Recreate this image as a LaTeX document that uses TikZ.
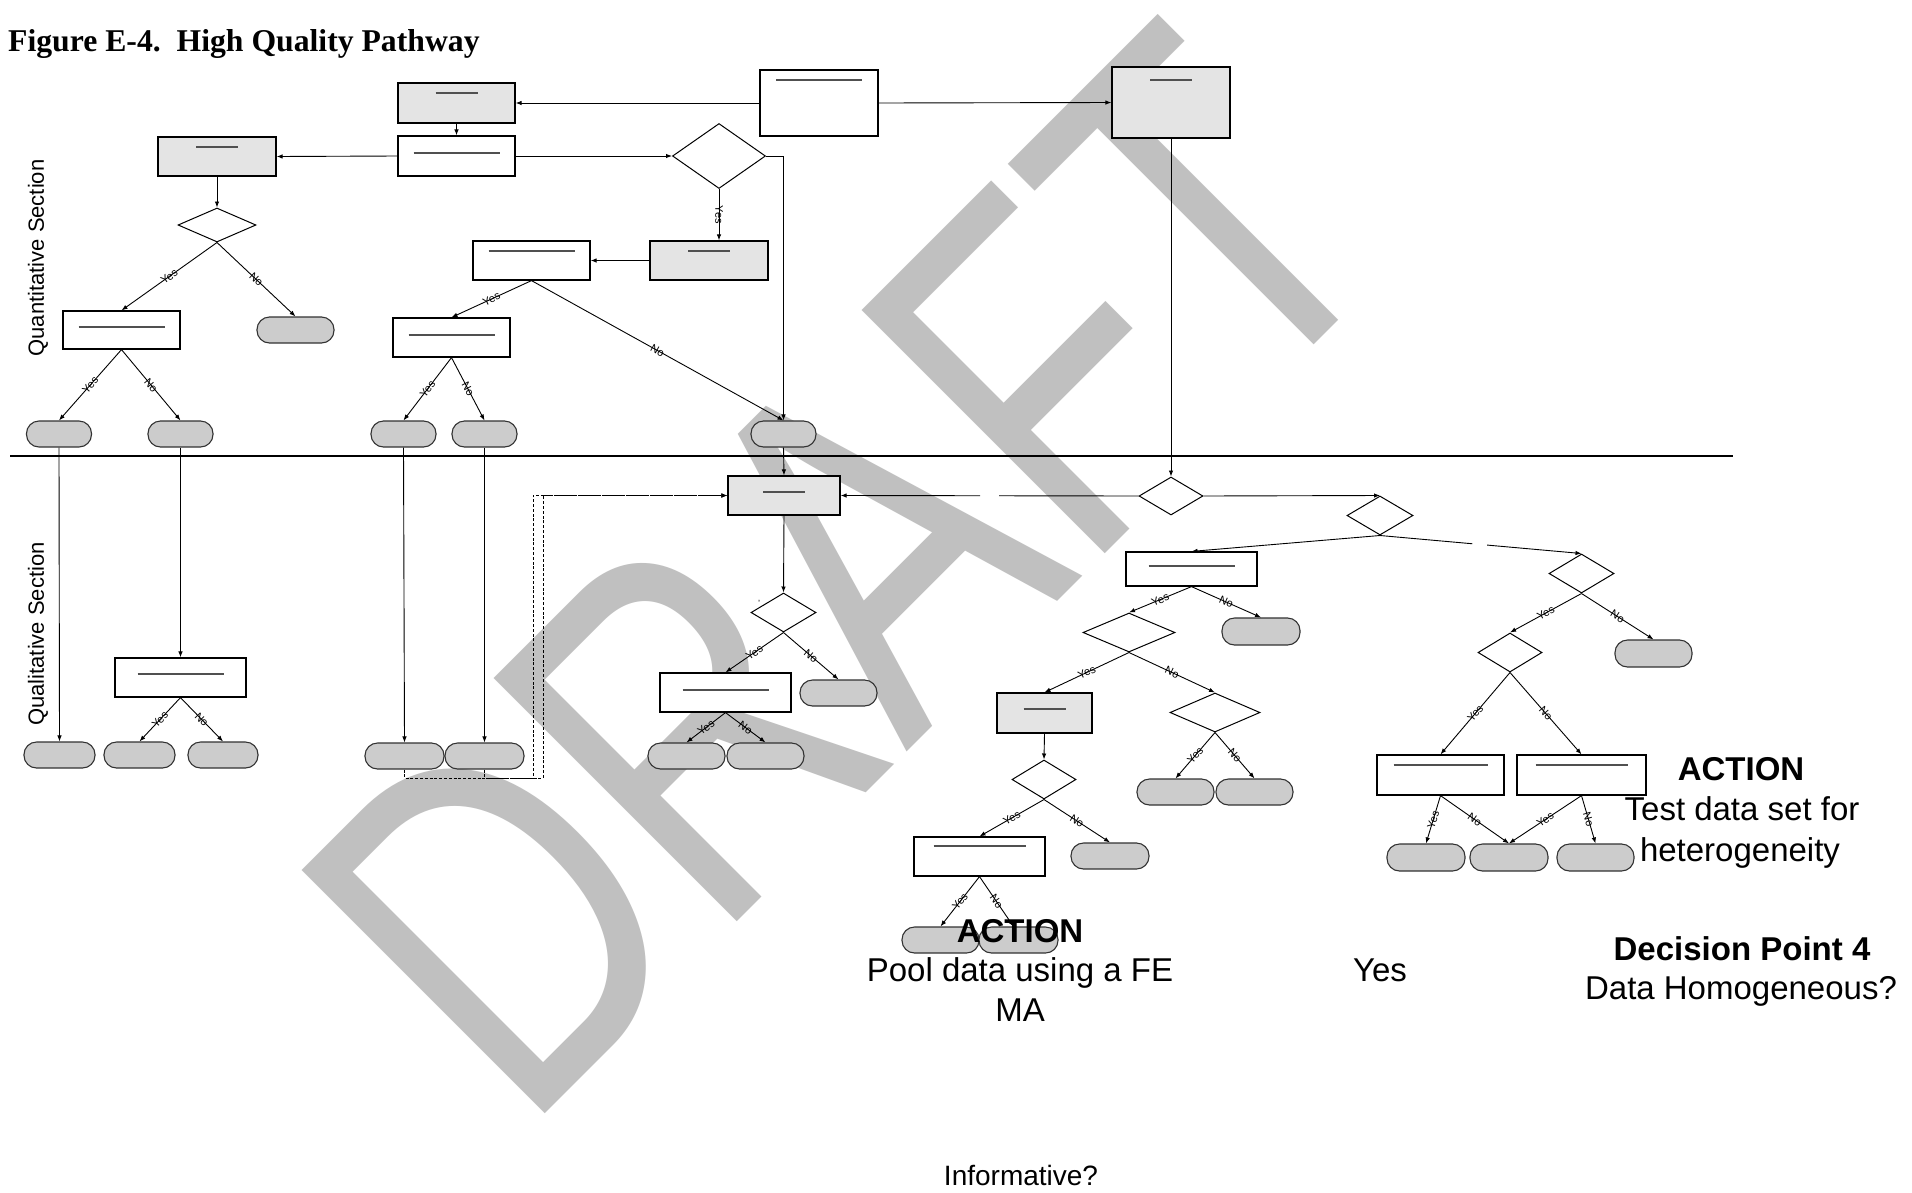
\documentclass[tikz,border=0pt]{standalone}
\usepackage{graphicx}
\usepackage{fontspec}
\setmainfont{Liberation Sans}
\newfontfamily\serifttl{Liberation Serif}
\usetikzlibrary{shapes.geometric,arrows.meta,calc}
\definecolor{wmgray}{RGB}{192,192,192}
\definecolor{boxgray}{RGB}{228,228,228}
\definecolor{termgray}{RGB}{204,204,204}
\definecolor{phgray}{RGB}{80,80,80}
\definecolor{termline}{RGB}{50,50,50}
\newcommand\phl[3]{\draw[phline] ($(#1.north)+(-#2,#3)$) -- ++({2*#2},0);}
\begin{document}
\begin{tikzpicture}[x=1pt,y=-1pt,
 wbox/.style={draw=black, line width=1.2pt, fill=white, inner sep=0pt},
 gbox/.style={wbox, fill=boxgray},
 dec/.style={diamond, draw=black, line width=1pt, fill=white, inner sep=0pt},
 term/.style={draw=termline, line width=1.1pt, fill=termgray, rounded corners=12.5pt, inner sep=0pt, minimum height=26pt},
 phline/.style={draw=phgray, line width=2pt},
 ar/.style={-{Latex[length=6pt,width=4.5pt]}, line width=0.9pt},
 ln/.style={line width=0.9pt},
 yn/.style={font=\fontsize{11}{11}\selectfont, inner sep=0.6pt, sloped, pos=0.5},
 yv/.style={font=\fontsize{11}{11}\selectfont, inner sep=0.6pt, rotate=-90, pos=0.5},
 dsh/.style={ar, dash pattern=on 3pt off 1.8pt},
 big/.style={font=\fontsize{33}{33}\selectfont, inner sep=0pt, anchor=base},
 bigb/.style={font=\fontsize{33}{33}\selectfont\bfseries, inner sep=0pt, anchor=base},
 wm/.style={text=wmgray, font=\fontsize{500}{500}\selectfont, rotate=45, anchor=base west, inner sep=0pt},
]
\useasboundingbox (0,0) rectangle (1912,1192);
\fill[white] (0,0) rectangle (1912,1192);

% watermark
\node[wm] (wmk) at (523.5,1135.5) {\scalebox{0.75}[1]{DRAFT}};

% title and section labels
\node[anchor=base west, inner sep=0pt, font=\serifttl\bfseries\fontsize{31.7}{31.7}\selectfont] (title) at (8,51) {Figure E-4.\ \ High Quality Pathway};
\node[rotate=90, inner sep=0pt, font=\fontsize{22}{22}\selectfont] (quant) at (38,258) {Quantitative Section};
\node[rotate=90, inner sep=0pt, font=\fontsize{22}{22}\selectfont] (qual) at (38,634) {Qualitative Section};

% separator
\coordinate (sepL) at (10,456);
\coordinate (sepR) at (1733,456);
\draw[line width=1.2pt] (sepL) -- (sepR);

% ---------- quantitative section nodes
\node[gbox, minimum width=117pt, minimum height=40pt] (A) at (456.5,103) {};
\node[wbox, minimum width=117pt, minimum height=40pt] (B) at (456.5,156) {};
\node[gbox, minimum width=118pt, minimum height=39pt] (C) at (217,156.5) {};
\node[dec, minimum width=93pt, minimum height=65pt] (D1) at (719,156) {};
\node[gbox, minimum width=118pt, minimum height=39pt] (E) at (709,260.5) {};
\node[wbox, minimum width=117pt, minimum height=39pt] (F) at (531.5,260.5) {};
\node[wbox, minimum width=118pt, minimum height=66pt] (G) at (819,103) {};
\node[gbox, minimum width=118pt, minimum height=71pt] (H) at (1171,102.5) {};
\node[dec, minimum width=78pt, minimum height=34pt] (D2) at (217,225) {};
\node[wbox, minimum width=117pt, minimum height=38pt] (I) at (121.5,330) {};
\node[term, minimum width=77pt] (T1) at (295.5,330) {};
\node[term, minimum width=65pt] (T2) at (59,434) {};
\node[term, minimum width=65pt] (T3) at (180.5,434) {};
\node[wbox, minimum width=117pt, minimum height=39pt] (J) at (451.5,337.5) {};
\node[term, minimum width=65pt] (T4) at (403.5,434) {};
\node[term, minimum width=65pt] (T5) at (484.5,434) {};
\node[term, minimum width=65pt] (Tm) at (783.5,434) {};

% ---------- qualitative section nodes
\node[term, minimum width=71pt] (T6) at (59.5,755) {};
\node[wbox, minimum width=131pt, minimum height=39pt] (K) at (180.5,677.5) {};
\node[term, minimum width=71pt] (T7) at (139.5,755) {};
\node[term, minimum width=70pt] (T8) at (223,755) {};
\node[term, minimum width=79pt] (T9) at (404.5,756) {};
\node[term, minimum width=79pt] (T10) at (484.5,756) {};
\node[gbox, minimum width=112pt, minimum height=39pt] (L) at (784,495.5) {};
\node[dec, minimum width=65pt, minimum height=39pt] (QL) at (783.5,612.5) {};
\node[wbox, minimum width=131pt, minimum height=39pt] (S) at (725.5,692.5) {};
\node[term, minimum width=77pt] (T21) at (838.5,693) {};
\node[term, minimum width=77pt] (T22) at (686.5,756) {};
\node[term, minimum width=77pt] (T23) at (765.5,756) {};
\node[dec, minimum width=64pt, minimum height=38pt] (Q1) at (1171,496) {};
\node[dec, minimum width=66pt, minimum height=39pt] (Q2) at (1380,515.5) {};
\node[wbox, minimum width=131pt, minimum height=34pt] (M) at (1191.5,569) {};
\node[dec, minimum width=65pt, minimum height=39pt] (Q3) at (1581.5,573.5) {};
\node[term, minimum width=78pt, minimum height=27pt] (T11) at (1261,631.5) {};
\node[dec, minimum width=92pt, minimum height=39pt] (Q4) at (1129,632.5) {};
\node[gbox, minimum width=95pt, minimum height=40pt] (N) at (1044.5,713) {};
\node[dec, minimum width=90pt, minimum height=39pt] (Q5) at (1215,712.5) {};
\node[term, minimum width=77pt] (T12) at (1175.5,792) {};
\node[term, minimum width=77pt] (T13) at (1254.5,792) {};
\node[dec, minimum width=64pt, minimum height=39pt] (Q6) at (1044,779.5) {};
\node[wbox, minimum width=131pt, minimum height=39pt] (O) at (979.5,856.5) {};
\node[term, minimum width=78pt] (T14) at (1110,856) {};
\node[term, minimum width=77pt] (T15) at (940.5,940) {};
\node[term, minimum width=79pt] (T16) at (1018.5,940) {};
\node[dec, minimum width=64pt, minimum height=39pt] (Q7) at (1510,652.5) {};
\node[term, minimum width=77pt, minimum height=27pt] (T17) at (1653.5,653.5) {};
\node[wbox, minimum width=127pt, minimum height=40pt] (P) at (1440.5,775) {};
\node[wbox, minimum width=129pt, minimum height=40pt] (R) at (1581.5,775) {};
\node[term, minimum width=78pt, minimum height=27pt] (T18) at (1426,857.5) {};
\node[term, minimum width=78pt, minimum height=27pt] (T19) at (1509,857.5) {};
\node[term, minimum width=77pt, minimum height=27pt] (T20) at (1595.5,857.5) {};

% placeholder lines inside boxes
\phl{A}{21}{11} \phl{B}{43}{18} \phl{C}{21}{11} \phl{E}{21}{11}
\phl{F}{43}{11} \phl{G}{43}{11} \phl{H}{21}{14} \phl{I}{43}{17}
\phl{J}{43}{18} \phl{K}{43}{17} \phl{L}{21}{17} \phl{S}{43}{18}
\phl{M}{43}{15} \phl{N}{21}{17} \phl{O}{46}{10} \phl{P}{47}{11}
\phl{R}{46}{11}

% small tick mark by the diamond
\node[inner sep=0pt, font=\fontsize{9}{9}\selectfont] (tick) at (759,603) {'};

% ---------- connectors, top
\draw[ar] (G.west) -- (A.east);
\draw[ar] (G.east) -- (H.west);
\draw[ar] (A.south) -- (B.north);
\draw[ar] (B.west) -- (C.east);
\draw[ar] (B.east) -- (D1.west);
\draw[ar] (D1.east) -| (Tm.north);
\draw[ar] (D1.south) -- node[yv]{Yes} (D1.south |- E.north);
\draw[ar] (E.west) -- (F.east);
\draw[ar] (C.south) -- (D2.north);
\draw[ar] (D2.south) -- node[yn]{Yes} (I.north);
\draw[ar] (D2.south) -- node[yn]{No} (T1.north);
\draw[ar] (I.south) -- node[yn]{Yes} (T2.north);
\draw[ar] (I.south) -- node[yn]{No} (T3.north);
\draw[ar] (F.south) -- node[yn]{Yes} (J.north);
\draw[ar] (F.south) -- node[yn]{No} (Tm.north);
\draw[ar] (J.south) -- node[yn]{Yes} (T4.north);
\draw[ar] (J.south) -- node[yn]{No} (T5.north);
\draw[ar] (H.south) -- (Q1.north);

% ---------- connectors, bottom
\draw[ar] (T2.south) -- (T6.north);
\draw[ar] (T3.south) -- (K.north);
\draw[ar] (T4.south) -- (T9.north);
\draw[ar] (T5.south) -- (T10.north);
\draw[ar] (K.south) -- node[yn]{Yes} (T7.north);
\draw[ar] (K.south) -- node[yn]{No} (T8.north);
\draw[ar] (Tm.south) -- (L.north);
\coordinate (d1) at (533,778);
\coordinate (d2) at (543,778);
\draw[dsh] (T9.south) |- (d1) |- (L.west);
\draw[dsh] (T10.south) |- (d2) |- (L.west);
\draw[ar] (L.south) -- (QL.north);
\draw[ar] (QL.south) -- node[yn]{Yes} (S.north);
\draw[ar] (QL.south) -- node[yn]{No} (T21.north);
\draw[ar] (S.south) -- node[yn]{Yes} (T22.north);
\draw[ar] (S.south) -- node[yn]{No} (T23.north);

\coordinate (g1a) at ($(Q1.west)!0.468!(L.east)$);
\coordinate (g1b) at ($(Q1.west)!0.532!(L.east)$);
\draw[ln] (Q1.west) -- (g1a);
\draw[ar] (g1b) -- (L.east);
\draw[ar] (Q1.east) -- (Q2.north);
\draw[ar] (Q2.south) -- (M.north);
\coordinate (g2a) at ($(Q2.south)!0.458!(Q3.north)$);
\coordinate (g2b) at ($(Q2.south)!0.532!(Q3.north)$);
\draw[ln] (Q2.south) -- (g2a);
\draw[ar] (g2b) -- (Q3.north);

\draw[ar] (M.south) -- node[yn]{Yes} (Q4.north);
\draw[ar] (M.south) -- node[yn]{No} (T11.north);
\draw[ar] (Q4.south) -- node[yn]{Yes} (N.north);
\draw[ar] (Q4.south) -- node[yn]{No} (Q5.north);
\draw[ar] (N.south) -- (Q6.north);
\draw[ar] (Q5.south) -- node[yn]{Yes} (T12.north);
\draw[ar] (Q5.south) -- node[yn]{No} (T13.north);
\draw[ar] (Q6.south) -- node[yn]{Yes} (O.north);
\draw[ar] (Q6.south) -- node[yn]{No} (T14.north);
\draw[ar] (O.south) -- node[yn]{Yes} (T15.north);
\draw[ar] (O.south) -- node[yn]{No} ([xshift=-5pt]T16.north);
\draw[ar] (Q3.south) -- node[yn]{Yes} (Q7.north);
\draw[ar] (Q3.south) -- node[yn]{No} (T17.north);
\draw[ar] (Q7.south) -- node[yn]{Yes} (P.north);
\draw[ar] (Q7.south) -- node[yn]{No} (R.north);
\draw[ar] (P.south) -- node[yn]{Yes} (T18.north);
\draw[ar] (P.south) -- node[yn]{No} (T19.north);
\draw[ar] (R.south) -- node[yn]{Yes} (T19.north);
\draw[ar] (R.south) -- node[yn]{No} (T20.north);

% ---------- free texts
\node[bigb] (act1) at (1020,942) {ACTION};
\node[big] (pool1) at (1020,981) {Pool data using a FE};
\node[big] (pool2) at (1020,1021) {MA};
\node[big] (yes1) at (1380,981) {Yes};
\node[bigb] (act2) at (1741,780) {ACTION};
\node[big] (test1) at (1742,820) {Test data set for};
\node[big] (test2) at (1740,861) {heterogeneity};
\node[bigb] (dp4) at (1742,960) {Decision Point 4};
\node[big] (dh) at (1741,999) {Data Homogeneous?};
\node[big, font=\fontsize{28}{28}\selectfont] (inf) at (1021,1185) {Informative?};
\end{tikzpicture}
\end{document}
